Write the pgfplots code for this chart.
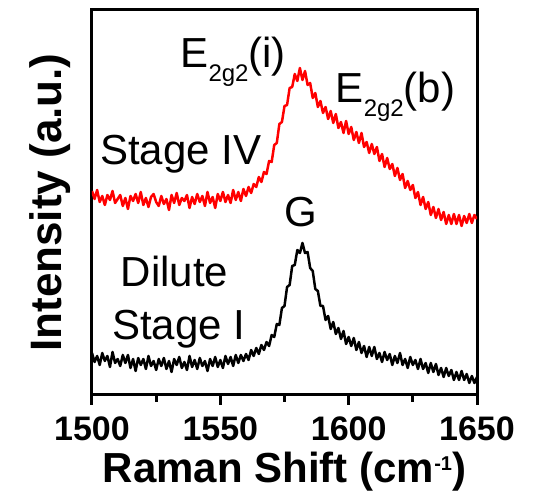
\documentclass[border=0pt]{standalone}
\usepackage{fontspec}
\setmainfont{Liberation Sans}
\usepackage{pgfplots}
\pgfplotsset{compat=1.18}
\usepackage{pgfplotstable}

\pgfplotstableread{
x y
1500 204
1501 196
1502 205
1503 193
1504 199
1505 190
1506 200
1507 195
1508 204
1509 192
1510 196
1511 200
1512 189
1513 197
1514 186
1515 199
1516 194
1517 201
1518 192
1519 203
1520 190
1521 197
1522 188
1523 198
1524 201
1525 193
1526 189
1527 199
1528 191
1529 196
1530 185
1531 200
1532 192
1533 202
1534 190
1535 197
1536 194
1537 200
1538 187
1539 198
1540 191
1541 201
1542 193
1543 199
1544 189
1545 203
1546 192
1547 198
1548 187
1549 201
1550 194
1551 203
1552 193
1553 200
1554 192
1555 205
1556 195
1557 203
1558 194
1559 206
1560 199
1561 208
1562 202
1563 211
1564 208
1565 218
1566 213
1567 223
1568 221
1569 234
1570 233
1571 250
1572 252
1573 271
1574 273
1575 289
1576 290
1577 307
1578 308
1579 321
1580 314
1581 327
1582 315
1583 324
1584 310
1585 312
1586 297
1587 302
1588 288
1589 294
1590 282
1591 288
1592 276
1593 284
1594 272
1595 281
1596 267
1597 273
1598 262
1599 274
1600 261
1601 268
1602 255
1603 263
1604 252
1605 262
1606 248
1607 253
1608 242
1609 251
1610 241
1611 248
1612 234
1613 241
1614 228
1615 237
1616 226
1617 231
1618 219
1619 227
1620 215
1621 221
1622 207
1623 214
1624 205
1625 210
1626 197
1627 203
1628 190
1629 198
1630 186
1631 193
1632 180
1633 188
1634 177
1635 186
1636 175
1637 183
1638 171
1639 180
1640 171
1641 181
1642 171
1643 180
1644 169
1645 179
1646 172
1647 181
1648 172
1649 180
1650 176
}\stageIV

\pgfplotstableread{
x y
1500 42
1501 33
1502 39
1503 30
1504 42
1505 34
1506 39
1507 28
1508 43
1509 32
1510 36
1511 29
1512 40
1513 32
1514 40
1515 27
1516 36
1517 24
1518 37
1519 30
1520 36
1521 26
1522 39
1523 29
1524 34
1525 25
1526 36
1527 29
1528 37
1529 26
1530 34
1531 23
1532 36
1533 30
1534 38
1535 27
1536 33
1537 25
1538 39
1539 28
1540 35
1541 26
1542 37
1543 29
1544 34
1545 24
1546 36
1547 29
1548 38
1549 28
1550 35
1551 27
1552 39
1553 31
1554 38
1555 29
1556 40
1557 32
1558 40
1559 34
1560 41
1561 35
1562 45
1563 39
1564 47
1565 41
1566 50
1567 45
1568 53
1569 49
1570 60
1571 58
1572 71
1573 70
1574 87
1575 89
1576 108
1577 110
1578 129
1579 130
1580 145
1581 142
1582 152
1583 142
1584 143
1585 127
1586 124
1587 106
1588 104
1589 89
1590 89
1591 75
1592 79
1593 66
1594 73
1595 61
1596 67
1597 56
1598 64
1599 51
1600 58
1601 49
1602 57
1603 45
1604 53
1605 42
1606 49
1607 38
1608 48
1609 39
1610 48
1611 36
1612 42
1613 33
1614 43
1615 35
1616 41
1617 30
1618 39
1619 32
1620 42
1621 30
1622 36
1623 27
1624 38
1625 30
1626 35
1627 26
1628 36
1629 26
1630 32
1631 22
1632 32
1633 23
1634 31
1635 20
1636 27
1637 18
1638 27
1639 19
1640 25
1641 15
1642 23
1643 15
1644 24
1645 15
1646 21
1647 12
1648 19
1649 12
1650 18
}\dilute

\newcommand{\annfont}{\fontsize{42}{50}\selectfont}
\newcommand{\subfont}{\fontsize{24}{24}\selectfont}

\begin{document}
\begin{tikzpicture}
\useasboundingbox (-92pt,-100pt) rectangle (458pt,395pt);
\begin{axis}[
  at={(0pt,0pt)}, anchor=south west,
  scale only axis,
  width=385pt, height=385pt,
  xmin=1500, xmax=1650, ymin=0, ymax=385,
  axis line style={line width=3pt},
  xtick={1500,1550,1600,1650},
  minor xtick={1525,1575,1625},
  ytick=\empty,
  xtick pos=bottom,
  tick align=outside,
  major tick length=10pt,
  minor tick length=7pt,
  every tick/.style={black, line width=3pt},
  every major tick/.style={black, line width=3pt},
  every minor tick/.style={black, line width=3pt},
  /pgf/number format/assume math mode=true,
  /pgf/number format/set thousands separator={},
  xticklabel style={font=\bfseries\fontsize{34}{34}\selectfont, inner sep=0pt, anchor=north, yshift=-12pt},
  xlabel={Raman Shift (cm\raisebox{12pt}{\fontsize{20}{20}\selectfont -1})},
  ylabel={Intensity (a.u.)},
  xlabel style={font=\bfseries\fontsize{42}{42}\selectfont, at={(axis description cs:0.5,-0.226)}, anchor=base, inner sep=0pt},
  ylabel style={font=\bfseries\fontsize{44}{44}\selectfont, at={(axis description cs:-0.0805,0.5)}, anchor=base, inner sep=0pt},
  clip=true,
]
\addplot[red, line width=2.5pt, line join=round] table[x=x, y=y] {\stageIV};
\addplot[black, line width=2.5pt, line join=round] table[x=x, y=y] {\dilute};

\node[anchor=base west, inner sep=0pt, font=\annfont] at (axis cs:1503.1,230) {Stage IV};
\node[anchor=base west, inner sep=0pt, font=\annfont] at (axis cs:1534.4,327) {E\raisebox{-14pt}{\subfont 2g2}(i)};
\node[anchor=base west, inner sep=0pt, font=\annfont] at (axis cs:1594.9,292) {E\raisebox{-14pt}{\subfont 2g2}(b)};
\node[anchor=base west, inner sep=0pt, font=\annfont] at (axis cs:1575.0,168) {G};
\node[anchor=base west, inner sep=0pt, font=\annfont] at (axis cs:1511.2,108) {Dilute};
\node[anchor=base west, inner sep=0pt, font=\annfont] at (axis cs:1507.8,55) {Stage I};
\end{axis}
\end{tikzpicture}
\end{document}
